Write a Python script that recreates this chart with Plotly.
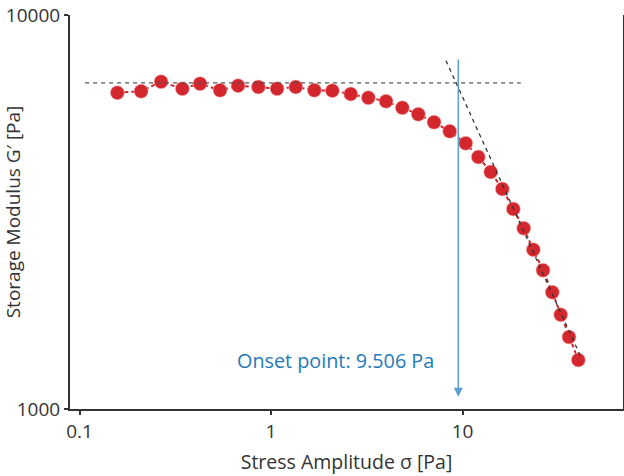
import math
import plotly.graph_objects as go

# ---- data ----
stress = [0.1575, 0.2096, 0.2664, 0.3441, 0.4257, 0.5417, 0.6726, 0.8585, 1.075, 1.346,
          1.683, 2.090, 2.608, 3.222, 3.987, 4.849, 5.877, 7.100, 8.574, 10.39,
          12.09, 14.04, 16.14, 18.42, 20.87, 23.43, 26.33, 29.43, 32.57, 35.98, 40.25]
storage = [6350, 6403, 6771, 6501, 6694, 6441, 6617, 6567, 6501, 6567,
           6441, 6426, 6302, 6167, 6039, 5816, 5598, 5343, 5067, 4724,
           4361, 3996, 3618, 3218, 2875, 2537, 2249, 1978, 1735, 1523, 1332]

plateau_x = [0.1068, 20.14]
plateau_y = [6727, 6727]
tangent_x = [8.20, 41.08]
tangent_y = [7656, 1371]

onset = 9.506
arrow_top_g = 7780
arrow_bottom_g = 1075

x_range = [0.0891, 68.9]
y_range = [1000, 10000]
x_ticks = [0.1, 1, 10]
y_ticks = [1000, 10000]

FONT = "Open Sans"
TXT = "#333333"
RED = "#d3262d"
BLUE = "#1f7ab8"

fig = go.Figure()

fig.add_trace(go.Scatter(
    x=stress, y=storage, mode="lines+markers",
    line=dict(color=RED, width=2, dash="4px,3px"),
    marker=dict(color=RED, size=14, line=dict(width=0.6, color="#f2b8ba")),
    showlegend=False, hoverinfo="skip"))

fig.add_trace(go.Scatter(
    x=plateau_x, y=plateau_y, mode="lines",
    line=dict(color="#555555", width=1.3, dash="4px,4px"),
    showlegend=False, hoverinfo="skip"))

fig.add_trace(go.Scatter(
    x=tangent_x, y=tangent_y, mode="lines",
    line=dict(color="#333333", width=1.3, dash="4px,4px"),
    showlegend=False, hoverinfo="skip"))

# blue onset arrow
fig.add_annotation(
    x=math.log10(onset), y=math.log10(arrow_bottom_g),
    ax=math.log10(onset), ay=math.log10(arrow_top_g),
    xref="x", yref="y", axref="x", ayref="y",
    text="", showarrow=True, arrowhead=2, arrowsize=1.2,
    arrowwidth=1.5, arrowcolor="#5a9fd0")

fig.add_annotation(
    x=math.log10(onset), y=3.122, xref="x", yref="y",
    text="Onset point: 9.506 Pa", showarrow=False,
    xanchor="right", yanchor="middle", xshift=-22,
    font=dict(family=FONT, size=19.8, color=BLUE))

axis_common = dict(
    type="log", showgrid=False, zeroline=False, automargin=False,
    showline=True, linecolor="#333333", linewidth=2,
    ticks="outside", ticklen=4, tickwidth=1.5, tickcolor="#333333",
    tickfont=dict(family=FONT, size=19, color=TXT),
)

fig.update_layout(
    width=624, height=476,
    margin=dict(l=70, r=1, t=15, b=67),
    paper_bgcolor="white", plot_bgcolor="white",
    xaxis=dict(**axis_common,
               range=[math.log10(x_range[0]), math.log10(x_range[1])],
               tickvals=x_ticks, ticktext=["0.1", "1", "10"],
               title=dict(text="Stress Amplitude σ [Pa]", standoff=13,
                          font=dict(family=FONT, size=19.5, color=TXT))),
    yaxis=dict(**axis_common,
               range=[math.log10(y_range[0]), math.log10(y_range[1])],
               tickvals=y_ticks, ticktext=["1000", "10000"],
               mirror=True,
               title=dict(text="Storage Modulus G′ [Pa]", standoff=4,
                          font=dict(family=FONT, size=19, color=TXT))),
)

fig.write_html("out.html")
